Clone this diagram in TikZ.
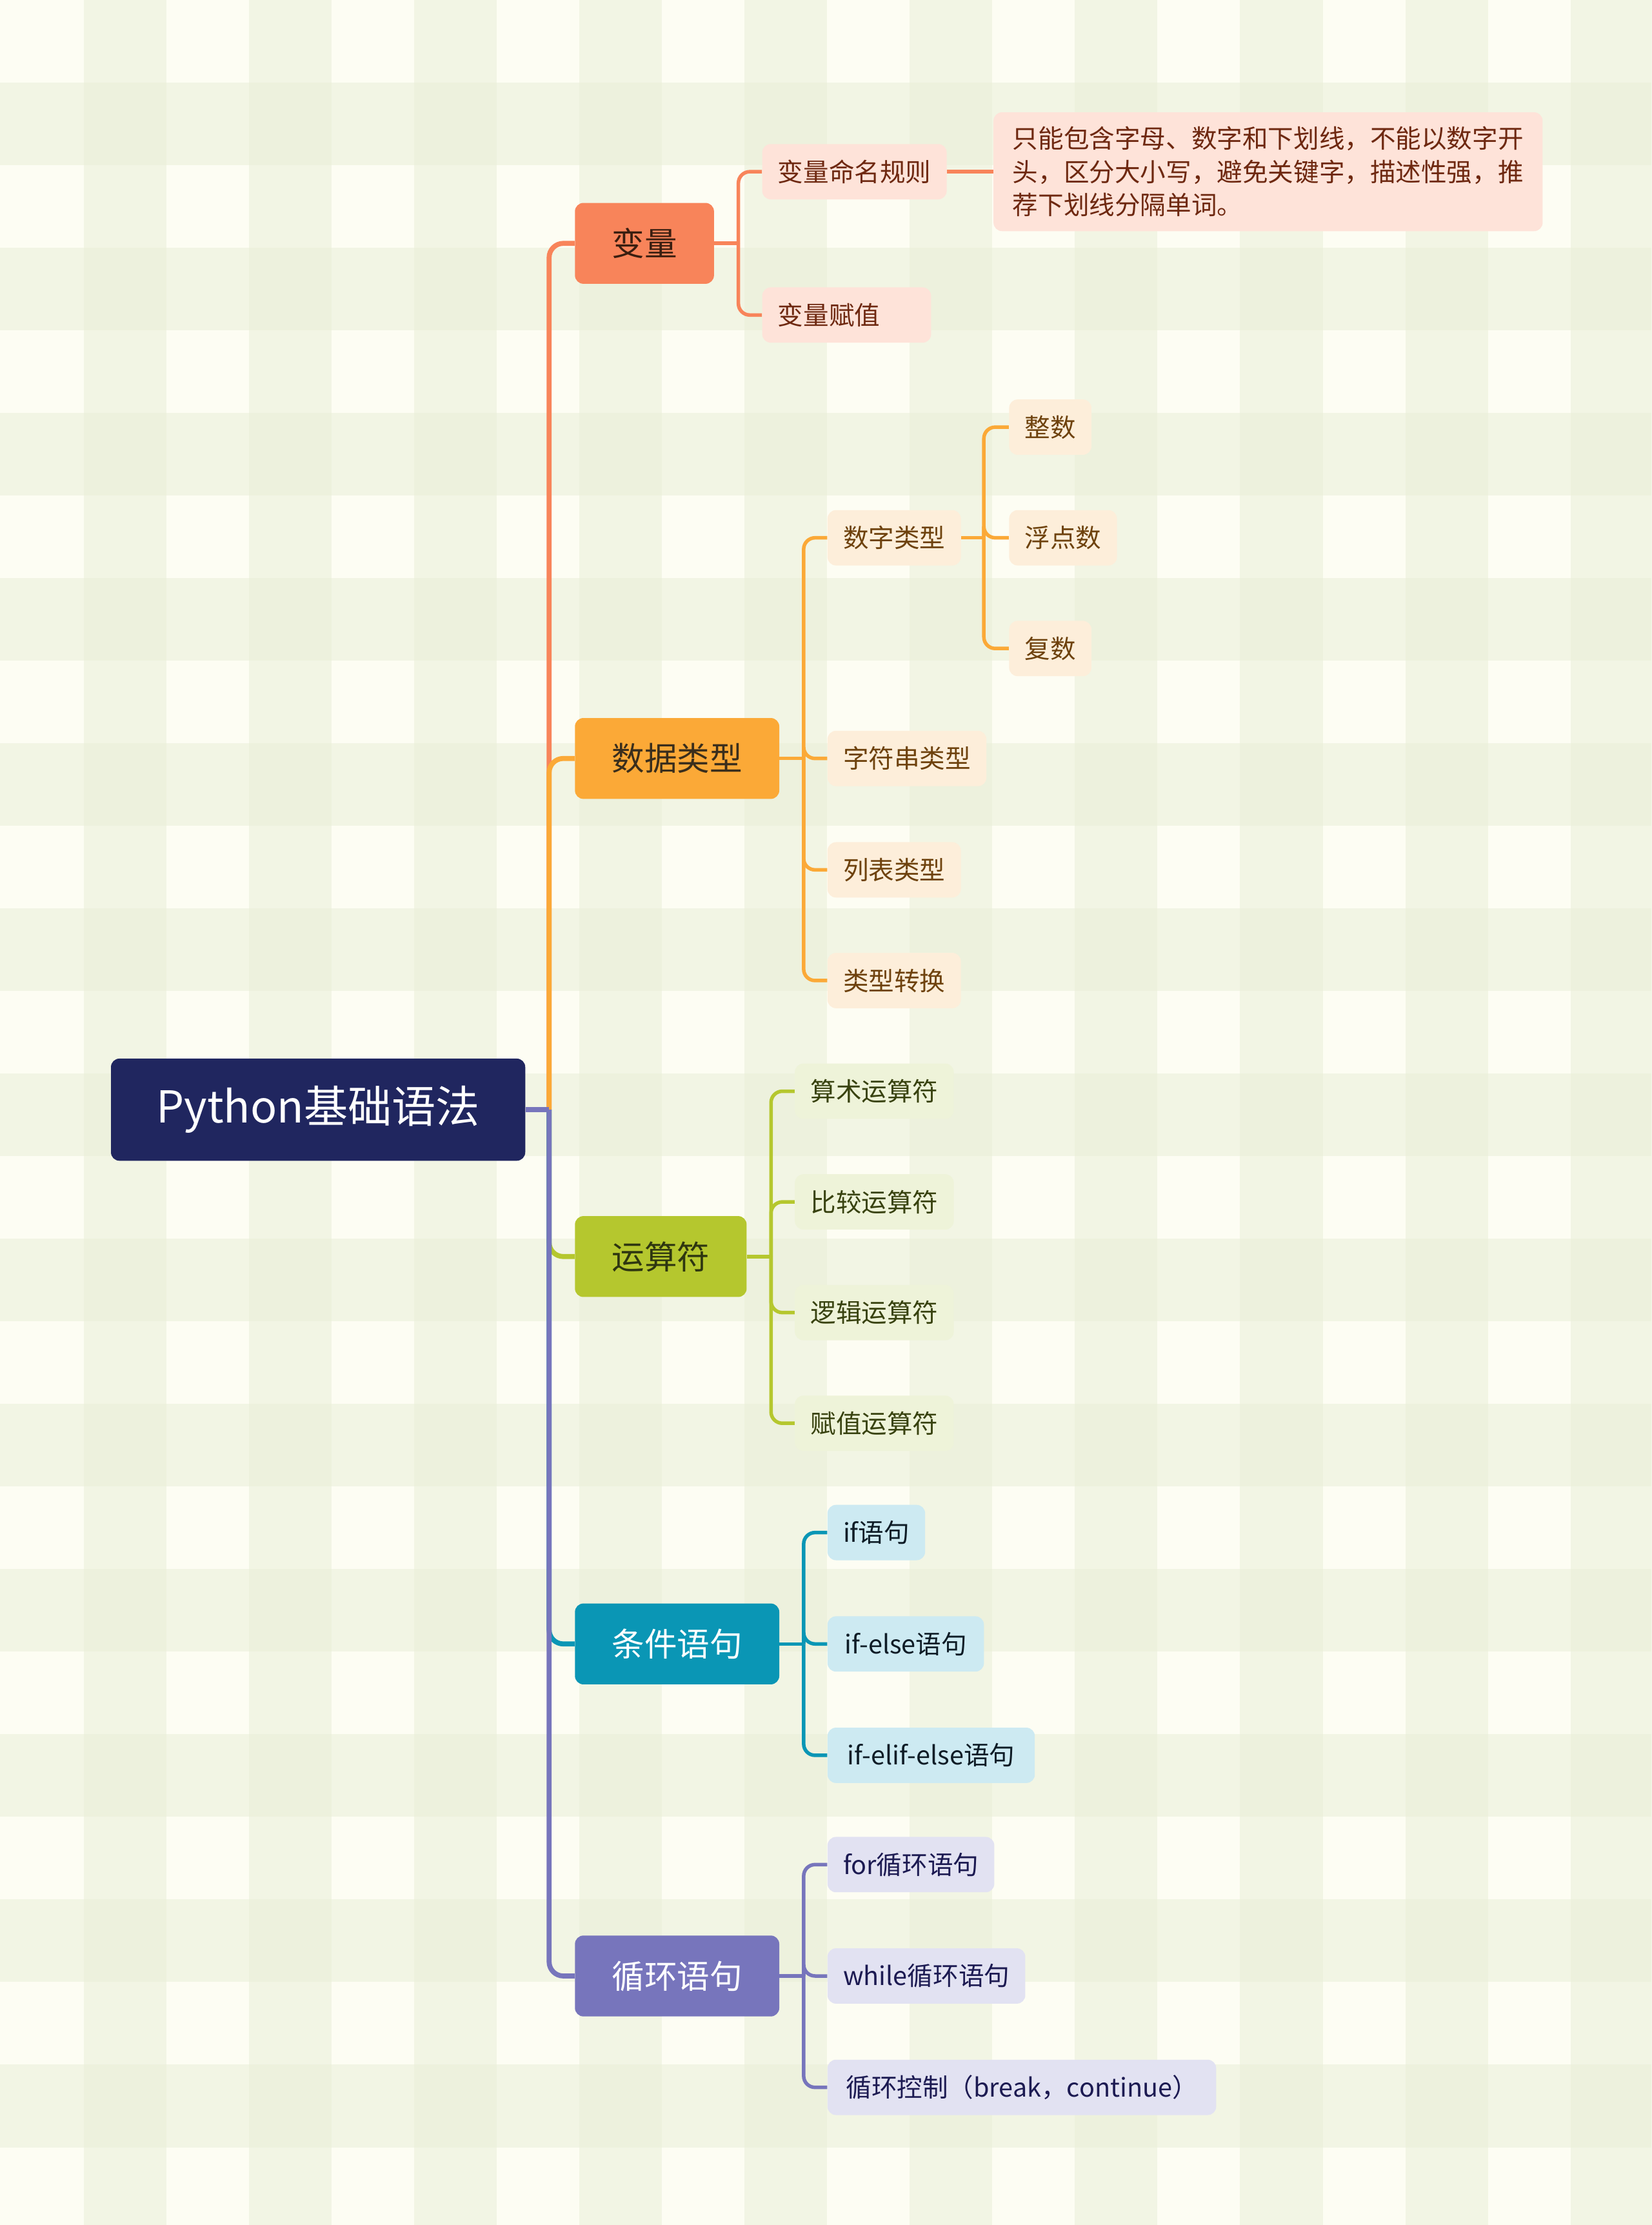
\documentclass[tikz,border=0pt]{standalone}
\usepackage{fontspec}
\setmainfont{Noto Sans CJK SC}

\definecolor{bgcream}{HTML}{FDFDF3}
\definecolor{bgstripe}{HTML}{E9EFD7}
\definecolor{rootblue}{HTML}{20265F}
\definecolor{varred}{HTML}{F8845A}
\definecolor{varlight}{HTML}{FEE3D9}
\definecolor{vartext}{HTML}{6E2810}
\definecolor{vardark}{HTML}{3A1E10}
\definecolor{dataorange}{HTML}{FBA937}
\definecolor{datalight}{HTML}{FDEEDA}
\definecolor{datatext}{HTML}{6E420D}
\definecolor{datadark}{HTML}{3A2E1C}
\definecolor{opgreen}{HTML}{B5C72E}
\definecolor{oplight}{HTML}{EEF3D9}
\definecolor{optext}{HTML}{38420F}
\definecolor{opdark}{HTML}{2E3610}
\definecolor{condteal}{HTML}{0A96B5}
\definecolor{condlight}{HTML}{CDEAF2}
\definecolor{condtext}{HTML}{0E1C26}
\definecolor{looppurple}{HTML}{7775BC}
\definecolor{looplight}{HTML}{E2E2F2}
\definecolor{looptext}{HTML}{1C1A52}

\tikzset{
  rootbox/.style={fill=rootblue, text=white, rounded corners=6pt, anchor=west,
    minimum height=72pt, inner xsep=32pt, font=\fontsize{31}{36}\selectfont},
  mainbox/.style={rounded corners=6pt, minimum height=57pt, inner xsep=26pt,
    anchor=west, font=\fontsize{23}{27}\selectfont},
  subbox/.style={rounded corners=6pt, minimum height=39pt, inner xsep=11pt,
    anchor=west, font=\fontsize{18}{22}\selectfont},
  trunk/.style={line width=3.5pt, rounded corners=10pt},
  twig/.style={line width=2.5pt, rounded corners=8pt},
}

\begin{document}
\begin{tikzpicture}[x=1pt, y=-1pt]
\useasboundingbox (0,0) rectangle (1164,1568);
% gingham background
\fill[bgcream] (0,0) rectangle (1164,1568);
\foreach \i in {1,3,...,19}
  \fill[bgstripe, fill opacity=.5] ({1+\i*58.2},0) rectangle ({1+(\i+1)*58.2},1568);
\foreach \j in {1,3,...,25}
  \fill[bgstripe, fill opacity=.5] (0,{\j*58.2}) rectangle (1164,{(\j+1)*58.2});

\node[rootbox] (root) at (78,782) {Python基础语法};

\node[mainbox, fill=varred, text=vardark] (var) at (405,171.5) {变量};
\node[mainbox, fill=dataorange, text=datadark] (data) at (405,534.5) {数据类型};
\node[mainbox, fill=opgreen, text=opdark] (op) at (405,885.5) {运算符};
\node[mainbox, fill=condteal, text=white] (cond) at (405,1158.5) {条件语句};
\node[mainbox, fill=looppurple, text=white] (loop) at (405,1392.5) {循环语句};

\node[subbox, fill=varlight, text=vartext] (var1) at (537,121) {变量命名规则};
\node[subbox, fill=varlight, text=vartext, minimum width=119pt, align=left, text width=97pt] (var2) at (537,222) {变量赋值};
\node[subbox, fill=varlight, text=vartext, inner ysep=10pt, minimum width=387pt, align=left,
  font=\fontsize{18}{23.5}\selectfont] (rule) at (700,121)
  {只能包含字母、数字和下划线，不能以数字开\\头，区分大小写，避免关键字，描述性强，推\\荐下划线分隔单词。};

\node[subbox, fill=datalight, text=datatext] (d1) at (583,379) {数字类型};
\node[subbox, fill=datalight, text=datatext] (d2) at (583,534.5) {字符串类型};
\node[subbox, fill=datalight, text=datatext] (d3) at (583,613) {列表类型};
\node[subbox, fill=datalight, text=datatext] (d4) at (583,691) {类型转换};
\node[subbox, fill=datalight, text=datatext] (n1) at (711,301) {整数};
\node[subbox, fill=datalight, text=datatext] (n2) at (711,379) {浮点数};
\node[subbox, fill=datalight, text=datatext] (n3) at (711,457) {复数};

\node[subbox, fill=oplight, text=optext] (o1) at (560,769) {算术运算符};
\node[subbox, fill=oplight, text=optext] (o2) at (560,847) {比较运算符};
\node[subbox, fill=oplight, text=optext] (o3) at (560,925) {逻辑运算符};
\node[subbox, fill=oplight, text=optext] (o4) at (560,1003) {赋值运算符};

\node[subbox, fill=condlight, text=condtext] (c1) at (583,1080) {if语句};
\node[subbox, fill=condlight, text=condtext, inner xsep=12pt] (c2) at (583,1158.5) {if-else语句};
\node[subbox, fill=condlight, text=condtext, inner xsep=14pt] (c3) at (583,1237) {if-elif-else语句};

\node[subbox, fill=looplight, text=looptext] (l1) at (583,1314) {for循环语句};
\node[subbox, fill=looplight, text=looptext] (l2) at (583,1392.5) {while循环语句};
\node[subbox, fill=looplight, text=looptext, inner xsep=13pt] (l3) at (583,1471) {循环控制（break，continue）};

% trunk
\coordinate (rj) at (387,782);
\draw[trunk, varred] (rj) |- (var.west);
\draw[trunk, dataorange] (rj) |- (data.west);
\draw[trunk, opgreen] (rj) |- (op.west);
\draw[trunk, condteal] (rj) |- (cond.west);
\draw[trunk, looppurple] (rj) |- (loop.west);
\draw[trunk, looppurple] (root.east) -- (rj);

% twigs
\coordinate (vj) at ([xshift=17pt]var.east);
\draw[twig, varred] (var.east) -- (vj);
\foreach \c in {var1,var2} \draw[twig, varred] (vj) |- (\c.west);
\draw[twig, varred] (var1.east) -- (rule.west);

\coordinate (dj) at ([xshift=17pt]data.east);
\draw[twig, dataorange] (data.east) -- (dj);
\foreach \c in {d1,d2,d3,d4} \draw[twig, dataorange] (dj) |- (\c.west);
\coordinate (nj) at ([xshift=16pt]d1.east);
\draw[twig, dataorange] (d1.east) -- (nj);
\foreach \c in {n1,n2,n3} \draw[twig, dataorange] (nj) |- (\c.west);

\coordinate (oj) at ([xshift=17pt]op.east);
\draw[twig, opgreen] (op.east) -- (oj);
\foreach \c in {o1,o2,o3,o4} \draw[twig, opgreen] (oj) |- (\c.west);

\coordinate (cj) at ([xshift=17pt]cond.east);
\draw[twig, condteal] (cond.east) -- (cj);
\foreach \c in {c1,c2,c3} \draw[twig, condteal] (cj) |- (\c.west);

\coordinate (lj) at ([xshift=17pt]loop.east);
\draw[twig, looppurple] (loop.east) -- (lj);
\foreach \c in {l1,l2,l3} \draw[twig, looppurple] (lj) |- (\c.west);
\end{tikzpicture}
\end{document}
